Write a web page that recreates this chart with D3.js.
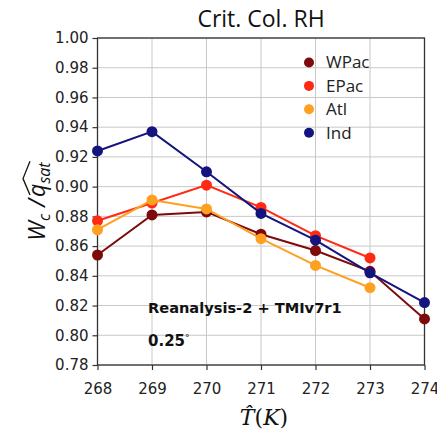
<!DOCTYPE html>
<html>
<head>
<meta charset="utf-8">
<script src="https://cdn.jsdelivr.net/npm/d3@7"></script>
<style>
  html, body { margin: 0; padding: 0; background: #fff; }
  svg { display: block; }
</style>
</head>
<body>
<svg id="chart" width="437" height="431"></svg>
<script>
// Temperature bins (K)
const temps = [268, 269, 270, 271, 272, 273, 274];

// Critical column RH per basin (null = no value in that bin)
const wpac = [0.854, 0.881, 0.883, 0.868, 0.857, 0.843, 0.811];
const epac = [0.877, 0.889, 0.901, 0.886, 0.867, 0.852, null];
const atl  = [0.871, 0.891, 0.885, 0.865, 0.847, 0.832, null];
const ind  = [0.924, 0.937, 0.910, 0.882, 0.864, 0.842, 0.822];

const seriesNames = ["WPac", "EPac", "Atl", "Ind"];
const seriesColors = ["#7d0b0b", "#ff2a14", "#ffa020", "#14147e"];

const xTicks = [268, 269, 270, 271, 272, 273, 274];
const yTicks = [0.78, 0.80, 0.82, 0.84, 0.86, 0.88, 0.90, 0.92, 0.94, 0.96, 0.98, 1.00];

const series = [wpac, epac, atl, ind].map((vals, i) => ({
  name: seriesNames[i],
  color: seriesColors[i],
  points: temps.map((t, j) => ({ t, v: vals[j] })).filter(d => d.v !== null)
}));

const svg = d3.select("#chart");
const plot = { left: 97.5, right: 424.5, top: 38, bottom: 365 };

const x = d3.scaleLinear().domain([268, 274]).range([plot.left, plot.right]);
const y = d3.scaleLinear().domain([0.78, 1.00]).range([plot.bottom, plot.top]);

// grid
const grid = svg.append("g").attr("stroke", "#c8c8c8").attr("stroke-width", 1);
grid.selectAll("line.vx").data(xTicks).join("line")
  .attr("x1", d => x(d)).attr("x2", d => x(d))
  .attr("y1", plot.top).attr("y2", plot.bottom);
grid.selectAll("line.hy").data(yTicks).join("line")
  .attr("x1", plot.left).attr("x2", plot.right)
  .attr("y1", d => y(d)).attr("y2", d => y(d));

// axes
const fmtY = d3.format(".2f");
const xAxis = svg.append("g")
  .attr("transform", `translate(0,${plot.bottom})`)
  .call(d3.axisBottom(x).tickValues(xTicks).tickFormat(d3.format("d")).tickSize(5).tickPadding(13));
const yAxis = svg.append("g")
  .attr("transform", `translate(${plot.left},0)`)
  .call(d3.axisLeft(y).tickValues(yTicks).tickFormat(fmtY).tickSize(5).tickPadding(4));
[xAxis, yAxis].forEach(a => {
  a.select(".domain").remove();
  a.selectAll("line").attr("stroke", "#333").attr("stroke-width", 1.2);
  a.selectAll("text")
    .attr("fill", "#222")
    .style("font-family", "'DejaVu Sans', sans-serif")
    .style("font-size", "15px");
});

// frame
svg.append("rect")
  .attr("x", plot.left).attr("y", plot.top)
  .attr("width", plot.right - plot.left).attr("height", plot.bottom - plot.top)
  .attr("fill", "none").attr("stroke", "#333").attr("stroke-width", 1.3);

// lines + markers
const line = d3.line().x(d => x(d.t)).y(d => y(d.v));
series.forEach(s => {
  const g = svg.append("g");
  g.append("path").datum(s.points)
    .attr("d", line).attr("fill", "none")
    .attr("stroke", s.color).attr("stroke-width", 2);
  g.selectAll("circle").data(s.points).join("circle")
    .attr("cx", d => x(d.t)).attr("cy", d => y(d.v))
    .attr("r", 5.5).attr("fill", s.color);
});

// legend
const legend = svg.append("g");
series.forEach((s, i) => {
  const ly = 62.5 + i * 23.4;
  legend.append("circle").attr("cx", 309).attr("cy", ly).attr("r", 5).attr("fill", s.color);
  legend.append("text").attr("x", 326).attr("y", ly + 5.8)
    .text(s.name)
    .attr("fill", "#222")
    .style("font-family", "'Open Sans', sans-serif")
    .style("font-size", "17px");
});

// annotations
svg.append("text").attr("x", 148).attr("y", 313)
  .text("Reanalysis-2 + TMIv7r1")
  .attr("fill", "#111")
  .style("font-family", "'DejaVu Sans', sans-serif")
  .style("font-weight", "bold")
  .style("font-size", "14.6px");
const deg = svg.append("text").attr("x", 148).attr("y", 345.5)
  .attr("fill", "#111")
  .style("font-family", "'DejaVu Sans', sans-serif")
  .style("font-weight", "bold")
  .style("font-size", "15px");
deg.append("tspan").text("0.25");
deg.append("tspan").text("°").attr("dy", -5).style("font-size", "9px").style("font-weight", "normal");

// title
svg.append("text").attr("x", 261).attr("y", 27)
  .attr("text-anchor", "middle")
  .text("Crit. Col. RH")
  .attr("fill", "#111")
  .style("font-family", "'Open Sans', sans-serif")
  .style("font-size", "23px");

// y label: W_c / wide-hat(q_sat), laid out piece by piece along the rotated baseline
const ylab = svg.append("g")
  .attr("transform", `translate(45,${(plot.top + plot.bottom) / 2}) rotate(-90)`)
  .attr("fill", "#111")
  .style("font-family", "'Open Sans', sans-serif")
  .style("font-style", "italic");
const pieces = [
  { t: "W", size: 23, dy: 0 },
  { t: "c", size: 16, dy: 5 },
  { t: "\u2009/", size: 23, dy: 0, gap: 3 },
  { t: "q", size: 23, dy: 0, hat: "start", gap: 2 },
  { t: "sat", size: 16, dy: 5, hat: "end" }
];
let cursor = 0, hatStart = 0, hatEnd = 0;
const nodes = pieces.map(p => {
  cursor += p.gap || 0;
  const tx = ylab.append("text").attr("x", cursor).attr("y", p.dy)
    .style("font-size", p.size + "px").text(p.t);
  const w = tx.node().getComputedTextLength();
  if (p.hat === "start") hatStart = cursor;
  cursor += w;
  if (p.hat === "end") hatEnd = cursor;
  return tx;
});
nodes.forEach(n => n.attr("x", +n.attr("x") - cursor / 2));
ylab.append("path")
  .attr("d", `M${hatStart - cursor / 2 + 2},-15 L${(hatStart + hatEnd) / 2 - cursor / 2 + 1},-22 L${hatEnd - cursor / 2 + 1},-15`)
  .attr("fill", "none").attr("stroke", "#111").attr("stroke-width", 1.3);

// x label: T̂(K)
const xl = svg.append("text")
  .attr("x", 264).attr("y", 425)
  .attr("text-anchor", "middle")
  .attr("fill", "#111")
  .style("font-family", "'DejaVu Serif', serif")
  .style("font-size", "22px");
xl.append("tspan").text("T\u0302").style("font-style", "italic");
xl.append("tspan").text("(");
xl.append("tspan").text("K").style("font-style", "italic");
xl.append("tspan").text(")");
</script>
</body>
</html>
